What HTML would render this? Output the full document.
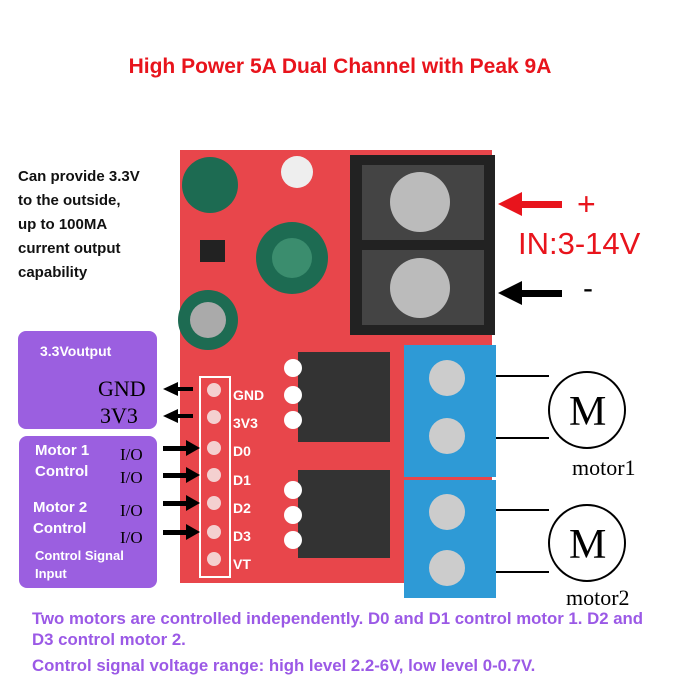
<!DOCTYPE html>
<html><head><style>
body{margin:0;width:700px;height:700px;background:#fff;position:relative;overflow:hidden;font-family:"Liberation Sans",sans-serif}
.a{position:absolute}
.pb{position:absolute;background:#9b5fe0;border-radius:8px}
.w{color:#fff;font-weight:bold;position:absolute}
.s{font-family:"Liberation Serif",serif;position:absolute;color:#000}
.pt{color:#9b59e6;font-weight:bold;font-size:16.8px;position:absolute;left:32px;white-space:nowrap}
</style></head><body>
<div class="a" style="left:0;top:55px;width:680px;text-align:center;color:#e8141c;font-weight:bold;font-size:21px">High Power 5A Dual Channel with Peak 9A</div>
<svg class="a" style="left:0;top:0" width="700" height="700">
<rect x="180" y="150" width="312" height="433" fill="#e8464b"/>
<rect x="350" y="155" width="145" height="180" fill="#222"/>
<rect x="362" y="165" width="122" height="75" fill="#444"/>
<rect x="362" y="250" width="122" height="75" fill="#444"/>
<circle cx="420" cy="202" r="30" fill="#bbb"/><circle cx="420" cy="288" r="30" fill="#bbb"/>
<circle cx="297" cy="172" r="16" fill="#eee"/>
<circle cx="210" cy="185" r="28" fill="#1d6b52"/>
<circle cx="292" cy="258" r="36" fill="#1d6b52"/><circle cx="292" cy="258" r="20" fill="#3b8d6e"/>
<circle cx="208" cy="320" r="30" fill="#1d6b52"/><circle cx="208" cy="320" r="18" fill="#aaa"/>
<rect x="200" y="240" width="25" height="22" fill="#222"/>
<rect x="298" y="352" width="92" height="90" fill="#333"/>
<rect x="298" y="470" width="92" height="88" fill="#333"/>
<g fill="#fff"><circle cx="293" cy="368" r="9"/><circle cx="293" cy="395" r="9"/><circle cx="293" cy="420" r="9"/><circle cx="293" cy="490" r="9"/><circle cx="293" cy="515" r="9"/><circle cx="293" cy="540" r="9"/></g>
<rect x="404" y="345" width="92" height="132" fill="#2e9ad6"/>
<rect x="404" y="480" width="92" height="118" fill="#2e9ad6"/>
<circle cx="447" cy="378" r="18" fill="#ccc"/><circle cx="447" cy="436" r="18" fill="#ccc"/>
<circle cx="447" cy="512" r="18" fill="#ccc"/><circle cx="447" cy="568" r="18" fill="#ccc"/>
<rect x="200" y="377" width="30" height="200" fill="none" stroke="#fff" stroke-width="2"/>
<g fill="#f4d0d0"><circle cx="214" cy="390" r="7"/><circle cx="214" cy="417" r="7"/><circle cx="214" cy="448" r="7"/><circle cx="214" cy="475" r="7"/><circle cx="214" cy="503" r="7"/><circle cx="214" cy="532" r="7"/><circle cx="214" cy="559" r="7"/></g>
<g stroke="#000" stroke-width="2" fill="none">
<circle cx="587" cy="410" r="38"/><circle cx="587" cy="543" r="38"/>
<line x1="496" y1="376" x2="549" y2="376"/><line x1="496" y1="438" x2="549" y2="438"/>
<line x1="496" y1="510" x2="549" y2="510"/><line x1="496" y1="572" x2="549" y2="572"/>
</g>
<g fill="#000">
<rect x="178" y="387" width="15" height="4"/><polygon points="163,389 178,382 178,396"/>
<rect x="178" y="414" width="15" height="4"/><polygon points="163,416 178,409 178,423"/>
<rect x="163" y="446" width="25" height="5"/><polygon points="200,448 186,440 186,456"/>
<rect x="163" y="473" width="25" height="5"/><polygon points="200,475 186,467 186,483"/>
<rect x="163" y="501" width="25" height="5"/><polygon points="200,503 186,495 186,511"/>
<rect x="163" y="530" width="25" height="5"/><polygon points="200,532 186,524 186,540"/>
<rect x="520" y="290" width="42" height="7"/><polygon points="498,293 522,281 522,305"/>
</g>
<rect x="520" y="201" width="42" height="7" fill="#e8141c"/><polygon points="498,204 522,192 522,216" fill="#e8141c"/>
</svg>
<div class="a" style="left:18px;top:165px;font-weight:bold;font-size:15px;line-height:24px;color:#111">Can provide 3.3V<br>to the outside,<br>up to 100MA<br>current output<br>capability</div>
<div class="pb" style="left:18px;top:331px;width:139px;height:98px"></div>
<div class="pb" style="left:19px;top:436px;width:138px;height:152px"></div>
<div class="w" style="left:40px;top:343px;font-size:14px">3.3Voutput</div>
<div class="s" style="left:98px;top:376px;font-size:22px">GND</div>
<div class="s" style="left:100px;top:403px;font-size:22px">3V3</div>
<div class="w" style="left:35px;top:440px;font-size:15px;line-height:21px">Motor 1<br>Control</div>
<div class="w" style="left:33px;top:497px;font-size:15px;line-height:21px">Motor 2<br>Control</div>
<div class="w" style="left:35px;top:547px;font-size:13px;line-height:18px">Control Signal<br>Input</div>
<div class="s" style="left:120px;top:443px;font-size:17px;line-height:23px">I/O<br>I/O</div>
<div class="s" style="left:120px;top:497px;font-size:17px;line-height:27px">I/O<br>I/O</div>
<div class="w" style="left:233px;top:381px;font-size:14px;line-height:28.2px">GND<br>3V3<br>D0<br>D1<br>D2<br>D3<br>VT</div>
<div class="s" style="left:569px;top:388px;font-size:42px">M</div>
<div class="s" style="left:569px;top:521px;font-size:42px">M</div>
<div class="s" style="left:572px;top:455px;font-size:22px">motor1</div>
<div class="s" style="left:566px;top:585px;font-size:22px">motor2</div>
<div class="a" style="left:577px;top:186px;color:#e8141c;font-size:32px">+</div>
<div class="a" style="left:518px;top:226px;color:#e8141c;font-size:31px">IN:3-14V</div>
<div class="a" style="left:583px;top:272px;color:#000;font-size:30px">-</div>
<div class="pt" style="top:608px;line-height:21px">Two motors are controlled independently. D0 and D1 control motor 1. D2 and<br>D3 control motor 2.</div>
<div class="pt" style="top:656px">Control signal voltage range: high level 2.2-6V, low level 0-0.7V.</div>
</body></html>
